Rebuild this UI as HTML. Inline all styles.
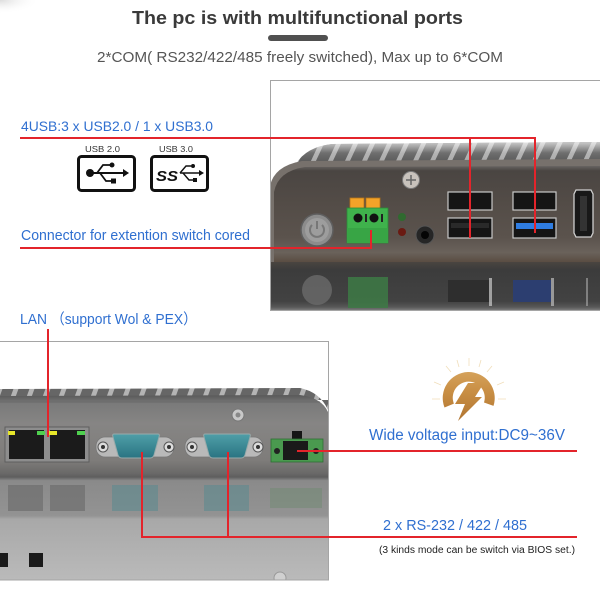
<!DOCTYPE html>
<html><head><meta charset="utf-8"><style>
html,body{margin:0;padding:0;background:#fff;width:600px;height:600px;overflow:hidden;}
svg{display:block;}
text{font-family:"Liberation Sans","Noto Sans CJK SC",sans-serif;}
</style></head><body>
<svg width="600" height="600" viewBox="0 0 600 600" xmlns="http://www.w3.org/2000/svg">
<defs>
 <radialGradient id="corner" cx="0" cy="0" r="1" gradientUnits="userSpaceOnUse" gradientTransform="scale(40,14)">
  <stop offset="0" stop-color="#dcdcdc"/><stop offset="1" stop-color="#fff" stop-opacity="0"/>
 </radialGradient>
 <clipPath id="c1"><rect x="270" y="80" width="330" height="231"/></clipPath>
 <clipPath id="c2"><rect x="0" y="341" width="328" height="239"/></clipPath>
 <pattern id="fin1" width="17" height="30" patternUnits="userSpaceOnUse" patternTransform="skewX(-25)">
   <rect width="17" height="30" fill="#a8a8a8"/><rect width="12" height="30" fill="#555"/>
 </pattern>
 <pattern id="fin2" width="16" height="30" patternUnits="userSpaceOnUse" patternTransform="skewX(-20)">
   <rect width="16" height="30" fill="#b4b4b4"/><rect width="11" height="30" fill="#666"/>
 </pattern>
 <linearGradient id="finfade1" x1="0" y1="142" x2="0" y2="164" gradientUnits="userSpaceOnUse">
  <stop offset="0" stop-color="#fff" stop-opacity="0.7"/>
  <stop offset="0.5" stop-color="#fff" stop-opacity="0.15"/>
  <stop offset="1" stop-color="#fff" stop-opacity="0"/>
 </linearGradient>
 <linearGradient id="face1" x1="0" y1="165" x2="0" y2="262" gradientUnits="userSpaceOnUse">
  <stop offset="0" stop-color="#6d6a68"/>
  <stop offset="0.06" stop-color="#4a4542"/>
  <stop offset="0.4" stop-color="#534c47"/>
  <stop offset="0.75" stop-color="#5b534d"/>
  <stop offset="0.9" stop-color="#6a625b"/>
  <stop offset="1" stop-color="#5a4d42"/>
 </linearGradient>
 <linearGradient id="refl1" x1="0" y1="262" x2="0" y2="311" gradientUnits="userSpaceOnUse">
  <stop offset="0" stop-color="#4a4540"/>
  <stop offset="0.15" stop-color="#3c3c3c"/>
  <stop offset="0.8" stop-color="#424242"/>
  <stop offset="0.92" stop-color="#585858"/>
  <stop offset="1" stop-color="#858585"/>
 </linearGradient>
 <linearGradient id="body2" x1="0" y1="396" x2="0" y2="580" gradientUnits="userSpaceOnUse">
  <stop offset="0" stop-color="#5c5c5c"/>
  <stop offset="0.04" stop-color="#7a7a7a"/>
  <stop offset="0.15" stop-color="#868584"/>
  <stop offset="0.35" stop-color="#7e7c7a"/>
  <stop offset="0.42" stop-color="#6a6968"/>
  <stop offset="0.44" stop-color="#5e5e5e"/>
  <stop offset="0.46" stop-color="#8a8a8a"/>
  <stop offset="0.65" stop-color="#939393"/>
  <stop offset="0.67" stop-color="#a8a8a8"/>
  <stop offset="0.85" stop-color="#b2b2b2"/>
  <stop offset="1" stop-color="#bababa"/>
 </linearGradient>
 <linearGradient id="gold" x1="0" y1="360" x2="0" y2="422" gradientUnits="userSpaceOnUse">
  <stop offset="0" stop-color="#dcae68"/>
  <stop offset="0.5" stop-color="#c98f45"/>
  <stop offset="1" stop-color="#b07430"/>
 </linearGradient>
 <linearGradient id="teal" x1="0" y1="0" x2="0" y2="1">
  <stop offset="0" stop-color="#4f9fa8"/><stop offset="1" stop-color="#2a7482"/>
 </linearGradient>
</defs>

<rect width="600" height="600" fill="#fff"/>
<rect width="45" height="18" fill="url(#corner)"/>

<!-- Header -->
<text x="132" y="24" font-size="18" font-weight="bold" fill="#3a3a3a" textLength="331" lengthAdjust="spacingAndGlyphs">The pc is with multifunctional ports</text>
<rect x="268" y="35" width="60" height="6" rx="3" fill="#505050"/>
<text x="97" y="62" font-size="15" fill="#555" textLength="406" lengthAdjust="spacingAndGlyphs">2*COM( RS232/422/485 freely switched), Max up to 6*COM</text>

<!-- ===== Photo 1 ===== -->
<g clip-path="url(#c1)">
 <rect x="270" y="80" width="330" height="231" fill="#fff"/>
 <path d="M296,164 Q306,147 332,144 L600,142 L600,164 Z" fill="url(#fin1)"/>
 <path d="M296,164 Q306,147 332,144 L600,142 L600,164 Z" fill="url(#finfade1)"/>
 <path d="M270,186 Q274,166 302,161 L600,159 L600,262 L270,262 Z" fill="#77716c"/>
 <path d="M274,192 Q278,171 305,167 L600,166 L600,262 L274,262 Z" fill="url(#face1)"/>
 <rect x="270" y="262" width="330" height="49" fill="url(#refl1)"/>
 <!-- reflections -->
 <circle cx="317" cy="290" r="15" fill="#6a6a6a" opacity="0.8"/>
 <rect x="348" y="277" width="40" height="31" fill="#3d7a45" opacity="0.85"/>
 <rect x="448" y="280" width="44" height="22" fill="#2e2e2e"/>
 <rect x="513" y="280" width="38" height="22" fill="#2c3e70"/>
 <rect x="489" y="278" width="3" height="28" fill="#bdbdbd" opacity="0.8"/>
 <rect x="551" y="278" width="3" height="28" fill="#bdbdbd" opacity="0.7"/>
 <rect x="586" y="278" width="2" height="28" fill="#aaa" opacity="0.6"/>
 <!-- power button -->
 <circle cx="317" cy="230" r="16" fill="#8c8c8c" stroke="#5e5e5e" stroke-width="1.5"/>
 <circle cx="317" cy="230" r="12" fill="#9d9d9d"/>
 <path d="M312,225 A7,7 0 1 0 322,225" fill="none" stroke="#777" stroke-width="2"/>
 <line x1="317" y1="221" x2="317" y2="229" stroke="#777" stroke-width="2"/>
 <!-- green terminal -->
 <rect x="350" y="198" width="14" height="11" fill="#f2a329" stroke="#b87417" stroke-width="0.8"/>
 <rect x="366" y="198" width="14" height="11" fill="#f2a329" stroke="#b87417" stroke-width="0.8"/>
 <rect x="347" y="208" width="41" height="35" fill="#3fb24c" stroke="#2c8a38" stroke-width="0.8"/>
 <rect x="347" y="228" width="41" height="15" fill="#38a545"/>
 <circle cx="358" cy="218" r="4.5" fill="#111"/>
 <circle cx="374" cy="218" r="4.5" fill="#111"/>
 <rect x="365" y="214" width="2" height="8" fill="#222"/>
 <rect x="381" y="214" width="2" height="8" fill="#222"/>
 <!-- LEDs -->
 <circle cx="402" cy="217" r="4" fill="#2f6a2f"/>
 <circle cx="402" cy="232" r="4" fill="#6a1a12"/>
 <!-- audio -->
 <circle cx="425" cy="235" r="9" fill="#262626" stroke="#555" stroke-width="1"/>
 <circle cx="425" cy="235" r="4" fill="#050505"/>
 <!-- screw -->
 <circle cx="411" cy="180" r="8.5" fill="#c8c2bc" stroke="#7a7a7a" stroke-width="1"/>
 <path d="M406,180 H416 M411,175 V185" stroke="#666" stroke-width="1.5"/>
 <!-- USB -->
 <rect x="448" y="192" width="44" height="18" fill="#151515" stroke="#c8c8c8" stroke-width="1.2"/>
 <rect x="448" y="218" width="44" height="20" fill="#151515" stroke="#c8c8c8" stroke-width="1.2"/>
 <rect x="513" y="192" width="43" height="18" fill="#151515" stroke="#c8c8c8" stroke-width="1.2"/>
 <rect x="513" y="218" width="43" height="20" fill="#151515" stroke="#c8c8c8" stroke-width="1.2"/>
 <rect x="516" y="223" width="37" height="6" fill="#2f7de2"/>
 <rect x="451" y="223" width="38" height="5" fill="#2a2a2a"/>
 <!-- HDMI -->
 <path d="M576,190 L591,190 L593,194 L593,233 L591,237 L576,237 L574,233 L574,194 Z" fill="#181818" stroke="#cfcfcf" stroke-width="1.3"/>
 <rect x="580" y="196" width="7" height="35" fill="#333"/>
</g>
<rect x="270.5" y="80.5" width="340" height="230" fill="none" stroke="#a5a5a5" stroke-width="1"/>

<!-- ===== Photo 2 ===== -->
<g clip-path="url(#c2)">
 <rect x="0" y="341" width="328" height="239" fill="#fff"/>
 <path d="M-5,398 L-5,389 L300,388 Q320,392 328,410 L328,400 Z" fill="url(#fin2)"/>
 <path d="M-5,396 L300,395 Q322,398 328,412 L328,580 L-5,580 Z" fill="url(#body2)"/>
 <line x1="0" y1="402" x2="320" y2="402" stroke="#6a6a6a" stroke-width="1"/>
 <!-- reflections -->
 <rect x="8" y="485" width="35" height="26" fill="#6e6e6e" opacity="0.7"/>
 <rect x="50" y="485" width="35" height="26" fill="#6e6e6e" opacity="0.7"/>
 <rect x="112" y="485" width="46" height="26" fill="#5e8a90" opacity="0.6"/>
 <rect x="204" y="485" width="45" height="26" fill="#5e8a90" opacity="0.6"/>
 <rect x="270" y="488" width="52" height="20" fill="#6f8a72" opacity="0.5"/>
 <rect x="0" y="553" width="8" height="14" fill="#1a1a1a"/>
 <rect x="29" y="553" width="14" height="14" fill="#1a1a1a"/>
 <circle cx="280" cy="578" r="6" fill="#d0d0d0" stroke="#999"/>
 <!-- LAN -->
 <rect x="5" y="427" width="84" height="35" fill="#8d8d8d" stroke="#5e5e5e" stroke-width="1"/>
 <rect x="9" y="430" width="35" height="29" fill="#1b1b1b"/>
 <rect x="50" y="430" width="35" height="29" fill="#1b1b1b"/>
 <rect x="8" y="431" width="7" height="4" fill="#e6e62a"/>
 <rect x="37" y="431" width="8" height="4" fill="#4fd04f"/>
 <rect x="49" y="431" width="8" height="4" fill="#e6e62a"/>
 <rect x="77" y="431" width="8" height="4" fill="#4fd04f"/>
 <!-- DB9 1 -->
 <rect x="96" y="437" width="78" height="20" rx="9" fill="#b9b9b9" stroke="#777" stroke-width="0.8"/>
 <circle cx="103" cy="447" r="5" fill="#ddd" stroke="#555"/><circle cx="103" cy="447" r="2" fill="#333"/>
 <circle cx="169" cy="447" r="5" fill="#ddd" stroke="#555"/><circle cx="169" cy="447" r="2" fill="#333"/>
 <path d="M114,434 L158,434 Q160,434 159,437 L154,455 Q153,458 150,458 L122,458 Q119,458 118,455 L113,437 Q112,434 114,434 Z" fill="url(#teal)" stroke="#9aa" stroke-width="1"/>
 <!-- DB9 2 -->
 <rect x="185" y="437" width="78" height="20" rx="9" fill="#b9b9b9" stroke="#777" stroke-width="0.8"/>
 <circle cx="192" cy="447" r="5" fill="#ddd" stroke="#555"/><circle cx="192" cy="447" r="2" fill="#333"/>
 <circle cx="258" cy="447" r="5" fill="#ddd" stroke="#555"/><circle cx="258" cy="447" r="2" fill="#333"/>
 <path d="M205,434 L249,434 Q251,434 250,437 L245,455 Q244,458 241,458 L213,458 Q210,458 209,455 L204,437 Q203,434 205,434 Z" fill="url(#teal)" stroke="#9aa" stroke-width="1"/>
 <!-- screw -->
 <circle cx="238" cy="415" r="6" fill="#c8c8c8" stroke="#777"/>
 <circle cx="238" cy="415" r="2.5" fill="#888"/>
 <!-- power connector -->
 <rect x="292" y="431" width="10" height="10" fill="#151515"/>
 <rect x="271" y="439" width="52" height="23" fill="#4a9a4f" stroke="#2f6f34" stroke-width="0.8"/>
 <rect x="283" y="441" width="25" height="19" fill="#1a1a1a"/>
 <circle cx="277" cy="451" r="3" fill="#222"/>
 <circle cx="316" cy="451" r="3" fill="#222"/>
</g>
<rect x="-5" y="341.5" width="333.5" height="238.5" fill="none" stroke="#a5a5a5" stroke-width="1"/>

<!-- Red connectors -->
<g stroke="#e3242b" stroke-width="2" fill="none">
 <path d="M20,138 H535 V233"/>
 <path d="M470,138 V238"/>
 <path d="M20,248 H371 V230"/>
 <path d="M48,329 V437"/>
 <path d="M297,451 H577"/>
 <path d="M142,452 V537 H577"/>
 <path d="M228,452 V537"/>
</g>

<!-- Left labels -->
<text x="21" y="131" font-size="14" fill="#2f6fd0" textLength="192" lengthAdjust="spacingAndGlyphs">4USB:3 x USB2.0 / 1 x USB3.0</text>
<text x="85" y="152" font-size="8.5" fill="#333" textLength="35" lengthAdjust="spacingAndGlyphs">USB 2.0</text>
<text x="159" y="152" font-size="8.5" fill="#333" textLength="34" lengthAdjust="spacingAndGlyphs">USB 3.0</text>
<!-- USB 2.0 icon -->
<rect x="78.5" y="156.5" width="56" height="34" rx="3" fill="#fff" stroke="#111" stroke-width="3"/>
<circle cx="90" cy="173" r="4" fill="#111"/>
<path d="M90,173 H123" stroke="#111" stroke-width="2"/>
<path d="M123,169 L129,173 L123,177 Z" fill="#111"/>
<path d="M97,173 L103,165 H110" stroke="#111" stroke-width="1.8" fill="none"/>
<circle cx="112" cy="165" r="2.5" fill="#111"/>
<path d="M100,173 L106,181 H112" stroke="#111" stroke-width="1.8" fill="none"/>
<rect x="111" y="178.5" width="5" height="5" fill="#111"/>
<!-- USB 3.0 icon -->
<rect x="151.5" y="156.5" width="56" height="34" rx="3" fill="#fff" stroke="#111" stroke-width="3"/>
<text x="156" y="181" font-size="15" font-weight="bold" font-style="italic" fill="#111" textLength="22" lengthAdjust="spacingAndGlyphs">SS</text>
<path d="M180,173 H199" stroke="#111" stroke-width="1.6"/>
<path d="M199,170 L204,173 L199,176 Z" fill="#111"/>
<path d="M180,173 L186,166 H191" stroke="#111" stroke-width="1.4" fill="none"/>
<circle cx="193" cy="166" r="2" fill="#111"/>
<path d="M183,173 L189,180 H194" stroke="#111" stroke-width="1.4" fill="none"/>
<rect x="193" y="178" width="4" height="4" fill="#111"/>

<text x="21" y="240" font-size="14.5" fill="#2f6fd0" textLength="229" lengthAdjust="spacingAndGlyphs">Connector for extention switch cored</text>
<text x="20" y="324" font-size="15" fill="#2f6fd0" textLength="177" lengthAdjust="spacingAndGlyphs">LAN （support Wol &amp; PEX）</text>

<!-- Power icon -->
<g stroke="#ecd3a4" stroke-width="0.8" opacity="0.75">
 <line x1="469" y1="358" x2="469" y2="366"/>
 <line x1="446" y1="366" x2="451" y2="372"/>
 <line x1="492" y1="366" x2="487" y2="372"/>
 <line x1="434" y1="382" x2="441" y2="385"/>
 <line x1="504" y1="382" x2="497" y2="385"/>
 <line x1="432" y1="399" x2="440" y2="399"/>
 <line x1="506" y1="399" x2="498" y2="399"/>
 <line x1="457" y1="360" x2="459" y2="367"/>
 <line x1="481" y1="360" x2="479" y2="367"/>
</g>
<path d="M444.5,407.5 A26,26 0 1 1 493.5,405.9 L484.0,402.5 A16,16 0 1 0 453.9,403.6 Z" fill="url(#gold)"/>
<path d="M468,383 L484,383 L475,397 L482,397 L458,421 L465,404 L455,404 Z" fill="url(#gold)"/>

<!-- Right labels -->
<text x="369" y="440" font-size="15.5" fill="#2f6fd0" textLength="196" lengthAdjust="spacingAndGlyphs">Wide voltage input:DC9~36V</text>
<text x="383" y="530" font-size="15" fill="#2f6fd0" textLength="144" lengthAdjust="spacingAndGlyphs">2 x RS-232 / 422 / 485</text>
<text x="379" y="553" font-size="10" fill="#222" textLength="196" lengthAdjust="spacingAndGlyphs">(3 kinds mode can be switch via BIOS set.)</text>
</svg>
</body></html>
